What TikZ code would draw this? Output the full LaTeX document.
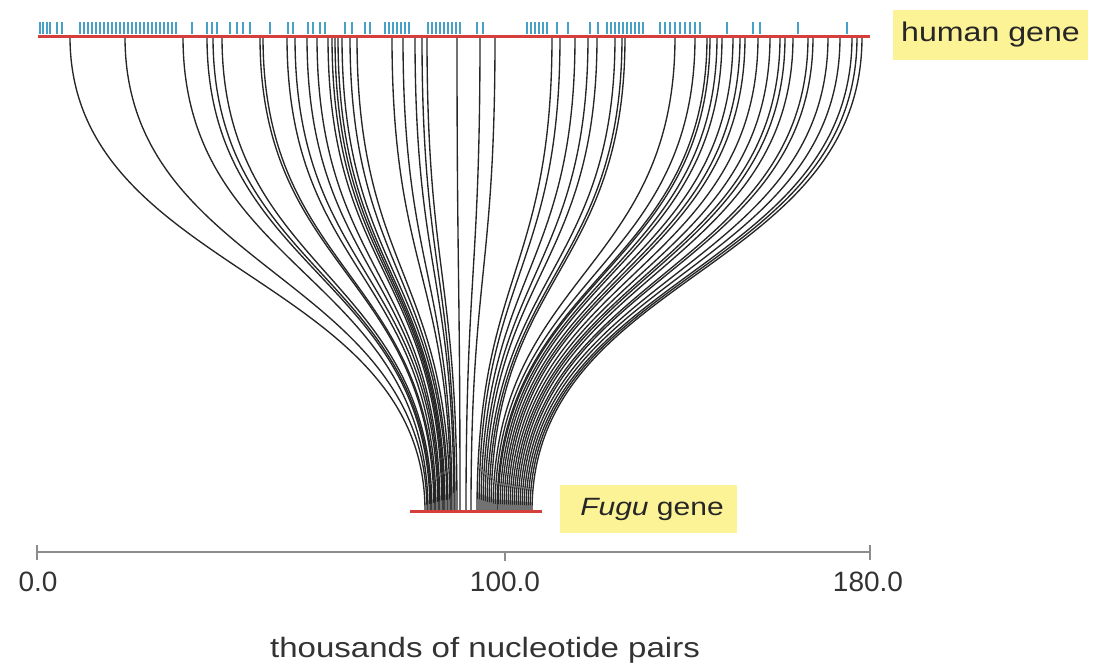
\documentclass[tikz,border=0pt]{standalone}
\usepackage{fontspec}
\setmainfont{Liberation Sans}
\usepackage{graphicx}
\definecolor{genered}{RGB}{214,62,60}
\definecolor{exonblue}{RGB}{70,160,200}
\definecolor{labelyellow}{RGB}{252,242,150}
\definecolor{axisgray}{RGB}{140,140,140}
\tikzset{
  gene/.style={draw=genered, line width=3pt},
  exon/.style={draw=exonblue, line width=1.6pt},
  link/.style={draw=black!85, line width=1.35pt},
  labelbox/.style={fill=labelyellow, inner sep=0pt, draw=none},
  axisline/.style={draw=axisgray, line width=2.5pt},
  axistick/.style={draw=axisgray, line width=1.5pt},
  numlabel/.style={font=\fontsize{28}{28}\selectfont, text=black!80},
}
\begin{document}
\begin{tikzpicture}[x=1pt,y=-1pt]
\useasboundingbox (0,0) rectangle (1093,667);
% exons (blue ticks)
\foreach \x in {40,43,47,50,57,62,80,84,88,92,96,100,104,108,112,116,120,124,128,132,136,140,144,148,152,156,160,164,168,172,176,192,207,212,217,230,237,243,250,270,288,293,308,313,320,325,345,352,365,370,385,389,393,397,401,405,409,428,432,436,440,444,448,452,456,460,477,483,527,531,535,539,543,547,557,568,590,598,607,611,615,619,623,627,631,635,639,643,660,665,670,675,680,685,690,695,700,727,753,760,798,847}
  \draw[exon] (\x,22) -- (\x,34);
% links
\foreach \a/\b in {70/425,125/427,183/428,207/430,213/431,222/432,260/434,263/435,287/436,295/438,307/439,317/440,328/442,332/443,335/444,338/445,342/447,350/448,357/450,392/451,403/452,415/454,422/455,427/457,457/460,480/466,495/471,552/477,560/479,575/481,588/483,597/485,615/487,622/489,625/491,675/493,695/495,707/497,710/498,717/500,722/502,733/504,740/506,745/508,758/510,770/512,780/514,785/516,793/518,808/520,813/522,828/524,840/526,852/528,857/530,862/532}
  \draw[link] (\a,37) .. controls (\a,274) and (\b,274) .. (\b,511);
% gene lines
\coordinate (hL) at (38,36);
\coordinate (hR) at (870,36);
\draw[gene] (hL) -- (hR);
\coordinate (fL) at (410,511);
\coordinate (fR) at (542,511);
\draw[gene] (fL) -- (fR);
% labels
\node[labelbox, minimum width=195pt, minimum height=50pt] (hbox) at (990.5,35) {};
\node[font=\fontsize{27}{27}\selectfont, text=black!85] (htext) at (hbox.center) {\scalebox{1.19}[1]{human gene}};
\node[labelbox, minimum width=177pt, minimum height=48pt] (fbox) at (648.5,509) {};
\node[font=\fontsize{25}{25}\selectfont, text=black!85] (ftext) at (652,509) {\scalebox{1.2}[1]{\textit{Fugu} gene}};
% axis
\coordinate (a0) at (37,552);
\coordinate (a1) at (870,552);
\coordinate (am) at (505,552);
\draw[axisline] (a0) -- (a1);
\draw[axistick] (37,545) -- (37,560);
\draw[axistick] (870,545) -- (870,560);
\draw[axistick] (505,552) -- (505,561);
\node[numlabel] (l0) at (38,582) {0.0};
\node[numlabel] (l1) at (505,582) {100.0};
\node[numlabel] (l2) at (868,582) {180.0};
\node[font=\fontsize{28}{28}\selectfont, text=black!80] (xlab) at (485,650) {\scalebox{1.18}[1]{thousands of nucleotide pairs}};
\end{tikzpicture}
\end{document}
